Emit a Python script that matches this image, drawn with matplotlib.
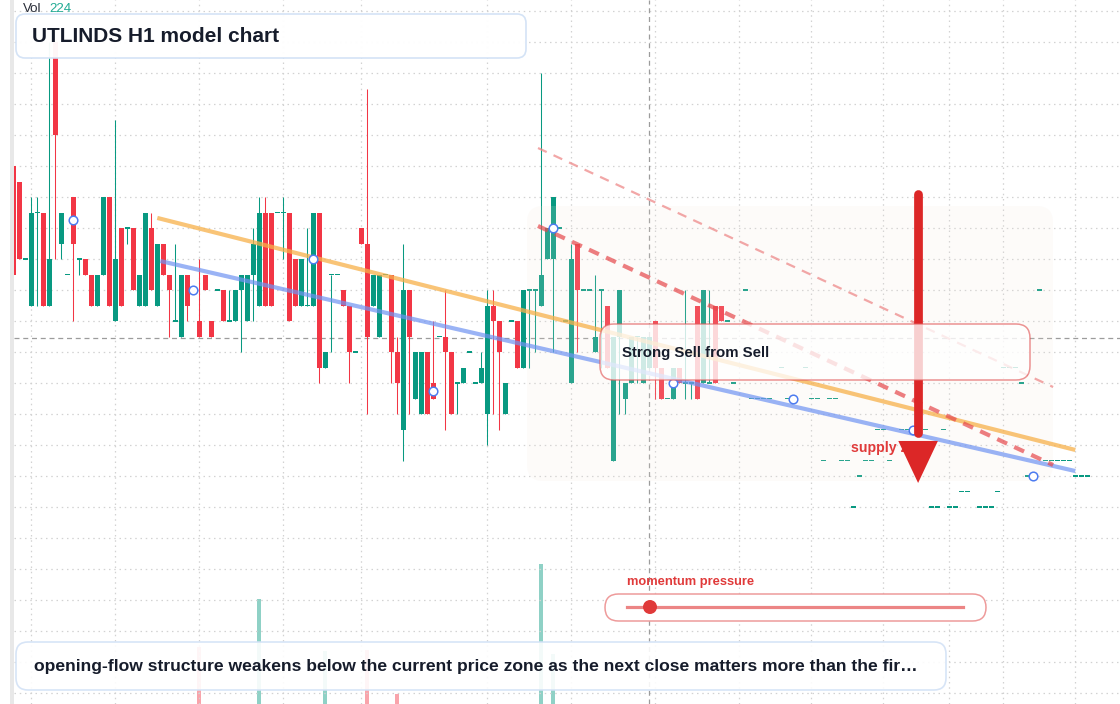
import numpy as np
import matplotlib
matplotlib.use("Agg")
import matplotlib.pyplot as plt
from matplotlib.patches import FancyBboxPatch, Polygon, Circle, Rectangle
from matplotlib.lines import Line2D
from matplotlib.transforms import Affine2D

plt.rcParams['font.family'] = ['Liberation Sans', 'DejaVu Sans']

# ---------------- data (price in ticks) ----------------
opens = [20, 19, 14, 11, 17, 17, 11, 28, 15, 13,
         18, 14, 14, 13, 11, 13, 18, 10, 16, 16,
         16, 11, 11, 16, 11, 15, 13, 10, 9, 13,
         12, 10, 13, 10, 12, 12, 10, 10, 12, 10,
         13, 11, 17, 17, 17, 17, 17, 14, 11, 11,
         11, 17, 7, 13, 13, 12, 11, 8, 16, 15,
         11, 9, 13, 13, 8, 3, 12, 5, 4, 8,
         6, 9, 9, 8, 6, 6, 8, 6, 6, 4,
         11, 10, 4, 10, 10, 7, 12, 12, 11, 14,
         14, 16, 10, 6, 15, 12, 12, 8, 12, 11,
         1, 9, 5, 6, 9, 6, 7, 10, 7, 5,
         5, 7, 6, 6, 11, 6, 6, 11, 11, 10]
closes = [13, 14, 14, 17, 17, 11, 14, 22, 17, 13,
          15, 14, 13, 11, 13, 18, 11, 14, 11, 16,
          12, 13, 17, 12, 15, 13, 12, 10, 13, 11,
          12, 9, 12, 9, 12, 10, 10, 12, 13, 13,
          15, 17, 11, 11, 17, 17, 10, 11, 14, 11,
          17, 7, 8, 13, 13, 11, 8, 8, 15, 9,
          13, 13, 13, 8, 6, 12, 9, 8, 8, 4,
          5, 9, 8, 4, 6, 7, 8, 6, 7, 11,
          10, 8, 6, 10, 7, 12, 12, 12, 13, 16,
          18, 16, 10, 14, 12, 12, 12, 9, 12, 7,
          9, 12, 6, 9, 9, 9, 9, 7, 5, 5,
          7, 6, 6, 6, 5, 12, 6, 6, 10, 10]
highs = [20, 19, 14, 18, 18, 17, 28, 28, 17, 13,
         18, 14, 14, 13, 13, 18, 18, 23, 16, 16,
         16, 13, 17, 17, 15, 15, 13, 15, 13, 13,
         12, 14, 13, 10, 12, 12, 12, 12, 13, 13,
         16, 18, 18, 17, 17, 18, 17, 14, 14, 16,
         17, 17, 8, 13, 13, 12, 11, 8, 16, 25,
         13, 13, 13, 13, 9, 15, 12, 8, 8, 8,
         10, 9, 12, 8, 6, 7, 8, 6, 8, 12,
         12, 10, 6, 10, 10, 12, 12, 12, 26, 16,
         18, 16, 10, 15, 15, 12, 12, 13, 12, 11,
         9, 12, 6, 9, 9, 9, 9, 10, 7, 5,
         7, 7, 12, 6, 11, 12, 12, 11, 11, 10]
lows = [13, 14, 14, 11, 11, 11, 11, 14, 14, 13,
        10, 13, 13, 11, 11, 13, 11, 10, 11, 15,
        12, 11, 11, 12, 11, 13, 9, 10, 9, 10,
        12, 9, 12, 9, 12, 10, 10, 10, 8, 10,
        10, 11, 11, 11, 17, 14, 10, 11, 11, 11,
        11, 6, 7, 8, 13, 11, 6, 8, 15, 4,
        11, 9, 13, 6, 4, 1, 4, 5, 4, 4,
        5, 9, 3, 4, 4, 6, 8, 6, 6, 2,
        4, 3, 4, 10, 7, 7, 7, 8, 11, 14,
        8, 16, 10, 6, 8, 12, 12, 8, 7, 7,
        1, 4, 4, 6, 6, 6, 7, 5, 5, 5,
        5, 6, 5, 5, 5, 6, 6, 6, 10, 10]
# flat (no-range) bars from index 120 on; None = no bar
flat_levels = [6, None, 12, 5, 5, 5, 5, None, 7, 5,
               5, None, 7, 5, 5, 1, 5, 5, 1, 1,
               -2, 0, 1, 1, 3, 3, 1, None, 3, 3,
               3, 3, 3, -2, -2, 3, -2, -2, -1, -1,
               None, -2, -2, -2, -1, 7, 7, 7, 6, 0,
               0, 12, 1, 1, 1, 1, 1, 0, 0, 0]

vol_index = [31, 41, 52, 59, 64, 88, 90]
vol_values = [91, 168, 85, 86, 16, 224, 80]
vol_max = 1126.4

marker_index = [10, 30, 50, 70, 90, 110, 130, 150, 170]
grid_index = [3, 17, 31, 45, 58, 79, 93, 107, 121, 133, 145, 156, 165, 177]
last_price = 8.9
cursor_index = 106

orange_x, orange_y = [24.0, 177.0], [16.65, 1.68]
blue_x, blue_y = [24.5, 177.0], [13.87, 0.32]
sell_x, sell_y = [87.45, 173.3], [16.13, 0.71]
sell2_x, sell2_y = [87.45, 173.3], [21.16, 5.74]
arrow_x, arrow_top, arrow_base, arrow_tip, arrow_half = 150.8, 18.2, 2.26, -0.45, 3.3

# ---------------- layout ----------------
W, H, DPI = 1120, 704, 100
X0, DX = 13.3, 6.0      # pixel of bar 0, pixels per bar
Y0, DY = 476.0, 15.5    # pixel of level 0, pixels per tick
TEAL, RED = '#089981', '#f23645'
DARK = '#161c2b'

o = np.array(opens + flat_levels, dtype=float)
c = np.array(closes + flat_levels, dtype=float)
h = np.array(highs + flat_levels, dtype=float)
l = np.array(lows + flat_levels, dtype=float)
N = len(o)
idx = np.arange(N)

fig = plt.figure(figsize=(W / DPI, H / DPI), dpi=DPI)
fig.patch.set_facecolor('white')
T = Affine2D().scale(1, -1).translate(0, H).scale(1.0 / DPI) + fig.dpi_scale_trans

xlim = (-X0 / DX, (W - X0) / DX)
ylim = ((Y0 - H) / DY, Y0 / DY)

ax = fig.add_axes([0, 0, 1, 1])
ax_vol = fig.add_axes([0, 0, 1, 1])
ax_vol.set_zorder(0)
ax.set_zorder(1)
for a in (ax, ax_vol):
    a.set_xlim(xlim)
    a.axis('off')
ax.patch.set_alpha(0)

# grid
gx0 = (14 - X0) / DX
for p in range(-14, 31, 2):
    ax_vol.add_line(Line2D([gx0, xlim[1]], [p, p], transform=ax.transData,
                           color='#d2d2d2', lw=0.9, ls=(0, (1.2, 3.0))))
for gi in grid_index:
    ax_vol.axvline(gi, color='#d2d2d2', lw=0.9, ls=(0, (1.2, 3.0)))

# volume
vcols = [TEAL if closes[i] >= opens[i] else RED for i in vol_index]
ax_vol.bar(vol_index, vol_values, width=0.67, color=vcols, alpha=0.45, lw=0)
ax_vol.set_ylim(0, vol_max)

# price / cursor lines
ax.add_line(Line2D([gx0, xlim[1]], [last_price, last_price], color='#9c9c9c',
                   lw=0.9, ls=(0, (4, 3)), zorder=1))
ax.axvline(cursor_index, color='#9c9c9c', lw=0.9, ls=(0, (4, 3)), zorder=1)

# candles
valid = ~np.isnan(o)
vi = idx[valid]
cols = np.where(c[valid] >= o[valid], TEAL, RED)
ax.vlines(vi, l[valid], h[valid], colors=cols, lw=0.75, zorder=2)
lo = np.minimum(o[valid], c[valid])
bh = np.abs(c[valid] - o[valid])
doji = bh == 0
lo = np.where(doji, lo - 0.045, lo)
bh = np.where(doji, 0.09, bh)
ax.bar(vi, bh, bottom=lo, width=0.83, color=cols, lw=0, zorder=2.1)

# zone
zone = FancyBboxPatch((527, 206), 526, 275, boxstyle='round,pad=0,rounding_size=16',
                      transform=T, fc='#f2e6dc', ec='none', alpha=0.15, zorder=3)
ax.add_patch(zone)

# trend lines
ax.plot(orange_x, orange_y, color='#f7b14a', lw=3.0, alpha=0.75, zorder=4, solid_capstyle='butt')
ax.plot(blue_x, blue_y, color='#6f93f2', lw=3.0, alpha=0.7, zorder=4, solid_capstyle='butt')
ax.plot(sell_x, sell_y, color='#e6484b', lw=3.0, alpha=0.7, ls=(0, (2.6, 1.9)), zorder=4)
ax.plot(sell2_x, sell2_y, color='#ee8a8a', lw=1.6, alpha=0.75, ls=(0, (4.3, 3.4)), zorder=4)

# pivot markers at mid-body
mid = (o[marker_index] + c[marker_index]) / 2
ax.plot(marker_index, mid, 'o', ms=6.2, mfc='white', mec='#4d7cf0', mew=1.1, zorder=5)

# supply zone label and arrow
ax.text(851, 448, 'supply zone', transform=T, color='#e03a3a', fontsize=10.2,
        fontweight='bold', va='center', ha='left', zorder=6)
ax.plot([arrow_x, arrow_x], [arrow_top, arrow_base + 0.5], color='#dc2727', lw=6.3,
        solid_capstyle='round', zorder=7)
ax.add_patch(Polygon([(arrow_x - arrow_half, arrow_base), (arrow_x + arrow_half, arrow_base),
                      (arrow_x, arrow_tip)], closed=True, fc='#dc2727', ec='none', zorder=7))
ax.set_ylim(ylim)
ax.set_xlim(xlim)

# ---------------- overlays (pixel coordinates) ----------------
fig.add_artist(Rectangle((10, 0), 4, H, transform=T, fc='#e8e8e8', ec='none', zorder=5))

fig.add_artist(FancyBboxPatch((600, 324), 430, 56, boxstyle='round,pad=0,rounding_size=14',
                              transform=T, fc='white', alpha=0.78, ec='none', zorder=2))
fig.add_artist(FancyBboxPatch((600, 324), 430, 56, boxstyle='round,pad=0,rounding_size=14',
                              transform=T, fc='none', ec='#e25a5a', lw=1.1, alpha=0.65, zorder=2.1))
fig.text(622, 353, 'Strong Sell from Sell', transform=T, color=DARK, fontsize=10.8,
         fontweight='bold', va='center', ha='left', zorder=3)

fig.add_artist(FancyBboxPatch((16, 14), 510, 44, boxstyle='round,pad=0,rounding_size=9',
                              transform=T, fc='white', alpha=0.96, ec='#d3e2f6', lw=1.2, zorder=2))
fig.text(32, 36, 'UTLINDS H1 model chart', transform=T, color=DARK, fontsize=15,
         fontweight='bold', va='center', ha='left', zorder=3)

fig.text(23, 9, 'Vol', transform=T, color='#2a2e39', fontsize=9.6, va='center', ha='left', zorder=3)
fig.text(49, 9, '224', transform=T, color='#22ab94', fontsize=9.6, va='center', ha='left', zorder=3)

fig.add_artist(FancyBboxPatch((16, 642), 930, 48, boxstyle='round,pad=0,rounding_size=12',
                              transform=T, fc='white', alpha=0.9, ec='#d3e2f6', lw=1.2, zorder=2))
fig.text(34, 666, 'opening-flow structure weakens below the current price zone as the next close matters more than the fir\u2026',
         transform=T, color=DARK, fontsize=12.6, fontweight='bold', va='center', ha='left', zorder=3)

fig.text(627, 582, 'momentum pressure', transform=T, color='#e03a3a', fontsize=9.3,
         fontweight='bold', va='center', ha='left', zorder=3)
fig.add_artist(FancyBboxPatch((605, 594), 381, 27, boxstyle='round,pad=0,rounding_size=13.5',
                              transform=T, fc='white', ec='#ee9b9b', lw=1.1, zorder=2))
fig.add_artist(Line2D([627, 963], [607, 607], transform=T, color='#ec8585', lw=2.3, zorder=3))
fig.add_artist(Circle((650, 607), 7, transform=T, fc='#e03a3a', ec='none', zorder=4))

fig.savefig('out.png', dpi=DPI, facecolor='white')
